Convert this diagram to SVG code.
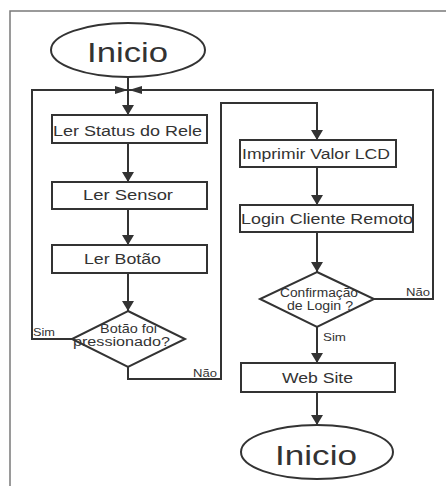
<svg xmlns="http://www.w3.org/2000/svg" width="446" height="486" viewBox="0 0 446 486">
<style>
.frame{fill:none;stroke:#7a7a7a;stroke-width:1.5}
.shape{fill:#fff;stroke:#333;stroke-width:2}
.line{fill:none;stroke:#333;stroke-width:2}
text{font-family:"Liberation Sans",Arial,sans-serif;fill:#333}
.big{font-size:28px}
.box{font-size:14px}
.dia{font-size:12.5px}
.lbl{font-size:11.5px}
</style>
<defs>
<marker id="ah" viewBox="0 0 10 12" refX="10" refY="6" markerWidth="10" markerHeight="12" markerUnits="userSpaceOnUse" orient="auto">
<path d="M0,0 L10,6 L0,12 z" fill="#333"/>
</marker>
<marker id="ahh" viewBox="0 0 13 8" refX="13" refY="4" markerWidth="13" markerHeight="8" markerUnits="userSpaceOnUse" orient="auto">
<path d="M0,0 L13,4 L0,8 z" fill="#333"/>
</marker>
</defs>
<rect width="446" height="486" fill="#fff"/>
<path class="frame" d="M446,11 H10 V486"/>

<g id="connectors">
<path class="line" d="M128,77 V115" marker-end="url(#ah)"/>
<path class="line" d="M72,339 H32 V90 H128" marker-end="url(#ahh)"/>
<path class="line" d="M374,299 H433 V90 H129" marker-end="url(#ahh)"/>
<path class="line" d="M128,143 V182" marker-end="url(#ah)"/>
<path class="line" d="M128,209 V245" marker-end="url(#ah)"/>
<path class="line" d="M128,273 V311" marker-end="url(#ah)"/>
<path class="line" d="M128,367 V379 H221 V103 H317 V140" marker-end="url(#ah)"/>
<path class="line" d="M317,167 V205" marker-end="url(#ah)"/>
<path class="line" d="M317,232 V272" marker-end="url(#ah)"/>
<path class="line" d="M317,327 V363" marker-end="url(#ah)"/>
<path class="line" d="M317,392 V425" marker-end="url(#ah)"/>
<text class="lbl" x="33" y="336" textLength="22" lengthAdjust="spacingAndGlyphs">Sim</text>
<text class="lbl" x="193" y="377" textLength="24" lengthAdjust="spacingAndGlyphs">Não</text>
<text class="lbl" x="406" y="296" textLength="24" lengthAdjust="spacingAndGlyphs">Não</text>
<text class="lbl" x="323" y="341" textLength="23" lengthAdjust="spacingAndGlyphs">Sim</text>
</g>

<g id="inicio-top">
<ellipse class="shape" cx="128" cy="50" rx="77" ry="27"/>
<text class="big" x="87" y="62" textLength="81" lengthAdjust="spacingAndGlyphs">Inicio</text>
</g>
<g id="ler-status">
<rect class="shape" x="52" y="115" width="155" height="28"/>
<text class="box" x="53" y="136" textLength="149" lengthAdjust="spacingAndGlyphs">Ler Status do Rele</text>
</g>
<g id="ler-sensor">
<rect class="shape" x="52" y="182" width="155" height="27"/>
<text class="box" x="83" y="200" textLength="90" lengthAdjust="spacingAndGlyphs">Ler Sensor</text>
</g>
<g id="ler-botao">
<rect class="shape" x="52" y="245" width="155" height="28"/>
<text class="box" x="84" y="264" textLength="77" lengthAdjust="spacingAndGlyphs">Ler Botão</text>
</g>
<g id="botao-pressionado">
<polygon class="shape" points="128,311 185,339 128,367 72,339"/>
<text class="dia" x="100" y="333" textLength="57" lengthAdjust="spacingAndGlyphs">Botão foi</text>
<text class="dia" x="73" y="346" textLength="97" lengthAdjust="spacingAndGlyphs">pressionado?</text>
</g>
<g id="imprimir">
<rect class="shape" x="240" y="140" width="156" height="27"/>
<text class="box" x="242" y="159" textLength="148" lengthAdjust="spacingAndGlyphs">Imprimir Valor LCD</text>
</g>
<g id="login">
<rect class="shape" x="240" y="205" width="173" height="27"/>
<text class="box" x="241" y="224" textLength="172" lengthAdjust="spacingAndGlyphs">Login Cliente Remoto</text>
</g>
<g id="confirmacao">
<polygon class="shape" points="317,272 374,299 317,327 260,299"/>
<text class="dia" x="280" y="297" textLength="78" lengthAdjust="spacingAndGlyphs">Confirmação</text>
<text class="dia" x="287" y="310" textLength="66" lengthAdjust="spacingAndGlyphs">de Login ?</text>
</g>
<g id="web-site">
<rect class="shape" x="241" y="363" width="154" height="29"/>
<text class="box" x="282" y="383" textLength="71" lengthAdjust="spacingAndGlyphs">Web Site</text>
</g>
<g id="inicio-bottom">
<ellipse class="shape" cx="317" cy="452" rx="76" ry="27"/>
<text class="big" x="275" y="465" textLength="82" lengthAdjust="spacingAndGlyphs">Inicio</text>
</g>
</svg>
